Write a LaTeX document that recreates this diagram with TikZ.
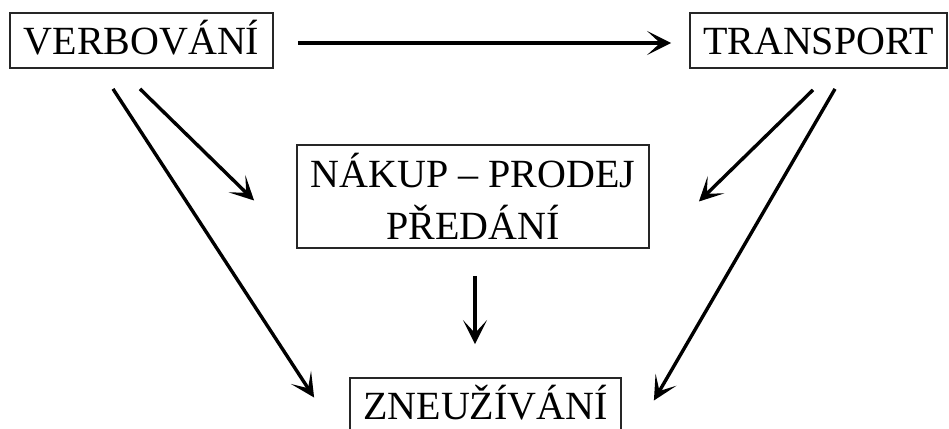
\documentclass[tikz,border=0pt]{standalone}
\usepackage{fontspec}
\setmainfont{Liberation Serif}
\usetikzlibrary{arrows.meta}
\begin{document}
\begin{tikzpicture}[x=1pt,y=-1pt,
  box/.style={draw=black!85, line width=1.8pt, inner sep=0pt, font=\fontsize{40}{52}\selectfont},
  onebox/.style={box, text height=27pt, text depth=0pt},
  arr/.style={line width=3.4pt, -{Stealth[length=24pt,width=24pt,inset=13pt]}}]
\clip (0,0) rectangle (949,428);
\fill[white] (0,0) rectangle (949,428);
\node[onebox, minimum width=263pt, minimum height=55pt] (verb) at (141.5,40.5) {VERBOVÁNÍ};
\node[onebox, minimum width=257pt, minimum height=55pt] (trans) at (818.5,40.5) {TRANSPORT};
\node[box, minimum width=352pt, minimum height=103pt, align=center] (nakup) at (473,196.5) {NÁKUP – PRODEJ\\PŘEDÁNÍ};
\node[onebox, minimum width=271pt, minimum height=55pt] (zneu) at (485.5,405.5) {ZNEUŽÍVÁNÍ};
\draw[arr, line width=4pt] ([shift={(24,2.5)}]verb.east) -- ([shift={(-18,2.5)}]trans.west);
\draw[arr] ([shift={(-1.5,20)}]verb.south) -- ([shift={(-42,4)}]nakup.west);
\draw[arr] ([shift={(-28.5,20)}]verb.south) -- ([shift={(-35,-8)}]zneu.west);
\draw[arr] ([shift={(-5.5,21)}]trans.south) -- ([shift={(49,5)}]nakup.east);
\draw[arr] ([shift={(16.5,20)}]trans.south) -- ([shift={(32,-5)}]zneu.east);
\draw[arr] ([shift={(2,27)}]nakup.south) -- ([shift={(-10.5,-33)}]zneu.north);
\end{tikzpicture}
\end{document}
